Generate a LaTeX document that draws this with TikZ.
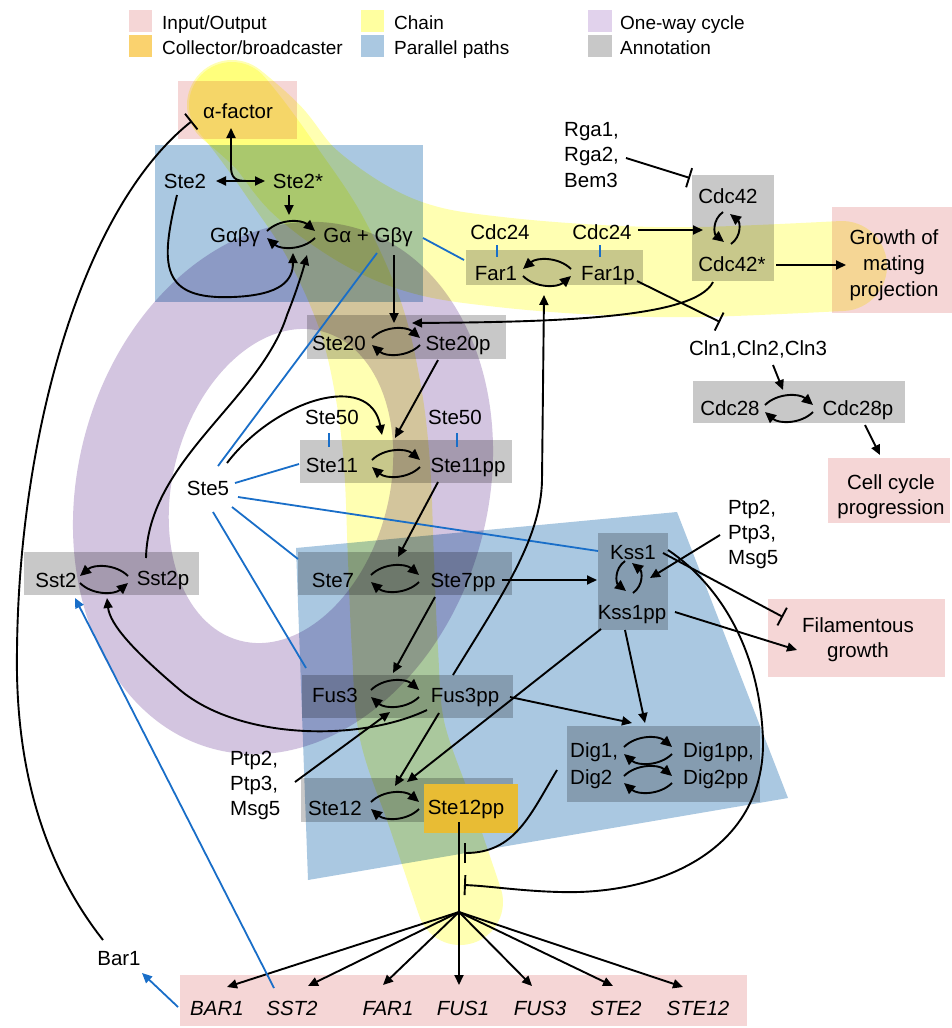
\documentclass[tikz,border=0pt]{standalone}
\usepackage{fontspec}
\setmainfont{Liberation Sans}
\usetikzlibrary{arrows.meta}
\definecolor{pinkc}{RGB}{245,214,214}
\definecolor{orangec}{RGB}{232,188,52}
\definecolor{orangeleg}{RGB}{250,210,110}
\definecolor{yelc}{RGB}{255,255,178}
\definecolor{yelleg}{RGB}{255,255,160}
\definecolor{bluec}{RGB}{170,200,225}
\definecolor{purc}{RGB}{211,197,224}
\definecolor{purleg}{RGB}{225,210,236}
\definecolor{grayc}{RGB}{200,200,200}
\definecolor{lineblue}{RGB}{25,110,200}
\newcommand\myfs{\fontsize{20.5}{24}\selectfont}
\newcommand\legfs{\fontsize{19}{22}\selectfont}
\begin{document}
\begin{tikzpicture}[x=1pt,y=-1pt,
  lbl/.style={inner sep=0pt, text height=14.7pt, text depth=0pt, font=\myfs},
  lblw/.style={lbl, anchor=west},
  leg/.style={inner sep=0pt, text height=13.6pt, text depth=0pt, font=\legfs, anchor=west},
  gene/.style={lbl, font=\myfs\itshape},
  arr/.style={draw=black, line width=1.9pt, -{Triangle[length=10pt,width=9pt]}},
  darr/.style={draw=black, line width=1.9pt, {Triangle[length=10pt,width=9pt]}-{Triangle[length=10pt,width=9pt]}},
  inh/.style={draw=black, line width=1.9pt, -{Bar[width=20pt]}},
  bl/.style={draw=lineblue, line width=1.8pt},
  blarr/.style={bl, -{Triangle[length=10pt,width=9pt]}},
  cyc/.style={draw=black, line width=1.9pt, -{Triangle[length=11pt,width=10pt]}},
  band/.style={draw=yelc, line cap=round, line join=round},
  cycr/.pic={\draw[cyc] (-24,-3) .. controls (-12,-15) and (10,-15) .. (24,-3);
             \draw[cyc] (24,4) .. controls (12,16) and (-10,16) .. (-24,4);},
  cycl/.pic={\draw[cyc] (24,-3) .. controls (12,-15) and (-10,-15) .. (-24,-3);
             \draw[cyc] (-24,4) .. controls (-12,16) and (10,16) .. (24,4);},
  cycv/.pic={\draw[cyc] (-4,-16) .. controls (-15,-8) and (-13,6) .. (-3,14);
             \draw[cyc] (4,16) .. controls (15,8) and (13,-6) .. (3,-14);},
]
\useasboundingbox[fill=white] (0,0) rectangle (952,1028);

% ---------- legend ----------
\fill[pinkc] (129,10) rectangle (152,32);
\fill[orangeleg] (129,35) rectangle (152,57);
\fill[yelleg] (361,10) rectangle (384,32);
\fill[bluec] (361,35) rectangle (384,57);
\fill[purleg] (588,10) rectangle (612,32);
\fill[grayc] (588,35) rectangle (612,57);
\node[leg] (l1) at (162,23) {Input/Output};
\node[leg] (l2) at (162,48) {Collector/broadcaster};
\node[leg] (l3) at (394,23) {Chain};
\node[leg] (l4) at (394,48) {Parallel paths};
\node[leg] (l5) at (620,23) {One-way cycle};
\node[leg] (l6) at (620,48) {Annotation};

% ---------- backgrounds ----------
\begin{scope}[blend mode=multiply]
  \fill[pinkc] (178,81) rectangle (297,139);
  \fill[pinkc] (832,207) rectangle (952,313);
  \fill[pinkc] (828,458) rectangle (950,523);
  \fill[pinkc] (768,599) rectangle (945,677);
  \fill[pinkc] (180,975) rectangle (747,1026);
  \fill[purc, even odd rule] (283,488) ellipse [x radius=205pt, y radius=270pt, rotate=-15]
                              (281,486) ellipse [x radius=108pt, y radius=160pt, rotate=-15];
  \fill[bluec] (155,145) rectangle (423,302);
  \fill[bluec] (296,548) -- (677,512) -- (788,798) -- (308,880) -- cycle;
  \draw[band, line width=90pt]
     plot[smooth, tension=0.6] coordinates {(232,105) (268,137) (305,182) (365,225) (425,250) (500,262) (600,270) (700,272) (842,266)};
  \draw[band, line width=86pt]
     plot[smooth, tension=0.6] coordinates {(232,105) (252,130) (282,172) (325,237) (360,315) (378,390) (387,465) (391,560) (395,650) (402,730) (430,813) (460,902)};
  \fill[grayc] (466,250) rectangle (643,285);
  \fill[grayc] (692,175) rectangle (774,281);
  \fill[grayc] (693,381) rectangle (905,423);
  \fill[grayc] (307,315) rectangle (506,359);
  \fill[grayc] (300,440) rectangle (512,483);
  \fill[grayc] (24,552) rectangle (199,595);
  \fill[grayc] (298,552) rectangle (512,595);
  \fill[grayc] (598,533) rectangle (668,630);
  \fill[grayc] (302,675) rectangle (513,718);
  \fill[grayc] (567,726) rectangle (760,802);
  \fill[grayc] (301,778) rectangle (513,822);
\end{scope}
\fill[orangec] (424,784) rectangle (518,833);

% ---------- text nodes ----------
\node[lbl] (alpha) at (238,111) {α-factor};
\node[lbl] (ste2) at (185,181) {Ste2};
\node[lbl] (ste2s) at (298,181) {Ste2*};
\node[lbl] (gabg) at (235,235) {Gαβγ};
\node[lbl] (gagbg) at (368,235) {Gα + Gβγ};
\node[lbl] (cdc24a) at (500,232) {Cdc24};
\node[lbl] (cdc24b) at (602,232) {Cdc24};
\node[lbl] (far1) at (496,273) {Far1};
\node[lbl] (far1p) at (608,273) {Far1p};
\node[lblw] (rga1) at (564,129) {Rga1,};
\node[lblw] (rga2) at (564,154) {Rga2,};
\node[lblw] (bem3) at (564,180) {Bem3};
\node[lbl] (cdc42) at (728,196) {Cdc42};
\node[lbl] (cdc42s) at (732,264) {Cdc42*};
\node[lbl] (gr1) at (894,237) {Growth of};
\node[lbl] (gr2) at (894,263) {mating};
\node[lbl] (gr3) at (894,289) {projection};
\node[lbl] (cln) at (758,348) {Cln1,Cln2,Cln3};
\node[lbl] (cdc28) at (730,408) {Cdc28};
\node[lbl] (cdc28p) at (858,408) {Cdc28p};
\node[lbl] (cc1) at (891,482) {Cell cycle};
\node[lbl] (cc2) at (891,507) {progression};
\node[lbl] (ste20) at (339,343) {Ste20};
\node[lbl] (ste20p) at (458,343) {Ste20p};
\node[lbl] (ste50a) at (332,417) {Ste50};
\node[lbl] (ste50b) at (455,417) {Ste50};
\node[lbl] (ste11) at (332,465) {Ste11};
\node[lbl] (ste11pp) at (468,465) {Ste11pp};
\node[lbl] (ste5) at (208,488) {Ste5};
\node[lbl] (sst2) at (56,580) {Sst2};
\node[lbl] (sst2p) at (163,578) {Sst2p};
\node[lbl] (ste7) at (333,580) {Ste7};
\node[lbl] (ste7pp) at (463,580) {Ste7pp};
\node[lbl] (kss1) at (633,552) {Kss1};
\node[lbl] (kss1pp) at (632,612) {Kss1pp};
\node[lblw] (ptpr1) at (728,507) {Ptp2,};
\node[lblw] (ptpr2) at (728,532) {Ptp3,};
\node[lblw] (ptpr3) at (728,557) {Msg5};
\node[lbl] (fil1) at (858,625) {Filamentous};
\node[lbl] (fil2) at (858,650) {growth};
\node[lbl] (fus3) at (335,695) {Fus3};
\node[lbl] (fus3pp) at (465,695) {Fus3pp};
\node[lblw] (dig1) at (570,750) {Dig1,};
\node[lblw] (dig2) at (570,777) {Dig2};
\node[lblw] (dig1pp) at (683,750) {Dig1pp,};
\node[lblw] (dig2pp) at (683,777) {Dig2pp};
\node[lblw] (ptpl1) at (230,758) {Ptp2,};
\node[lblw] (ptpl2) at (230,783) {Ptp3,};
\node[lblw] (ptpl3) at (230,808) {Msg5};
\node[lbl] (ste12) at (335,808) {Ste12};
\node[lbl] (ste12pp) at (466,807) {Ste12pp};
\node[lbl] (bar1) at (119,958) {Bar1};
\node[gene] (gBAR1) at (217,1008) {BAR1};
\node[gene] (gSST2) at (292,1008) {SST2};
\node[gene] (gFAR1) at (388,1008) {FAR1};
\node[gene] (gFUS1) at (463,1008) {FUS1};
\node[gene] (gFUS3) at (540,1008) {FUS3};
\node[gene] (gSTE2) at (616,1008) {STE2};
\node[gene] (gSTE12) at (698,1008) {STE12};

% ---------- cycles ----------
\pic at (291,234) {cycr};
\pic at (547,272) {cycl};
\pic at (727,228) {cycv};
\pic at (789,408) {cycr};
\pic at (396,341) {cycr};
\pic at (396,463) {cycr};
\pic at (104,579) {cycl};
\pic at (395,578) {cycr};
\pic at (629,577) {cycv};
\pic at (395,693) {cycr};
\pic at (648,750) {cycr};
\pic at (648,779) {cycr};
\pic at (395,805) {cycr};

% ---------- connector end points ----------
\coordinate (aTip) at (231,128);
\coordinate (aJn) at (247,181);
\coordinate (s2R) at (216,181);
\coordinate (s2sL) at (265,181);
\coordinate (s2sB) at (289,195);
\coordinate (gcT) at (289,215);
\coordinate (s2B) at (177,195);
\coordinate (gcB1) at (293,253);
\coordinate (sstpT) at (146,558);
\coordinate (gcB2) at (307,255);
\coordinate (gB) at (394,255);
\coordinate (s20cT) at (394,323);
\coordinate (gBl) at (377,253);
\coordinate (s5T) at (218,466);
\coordinate (gR) at (423,238);
\coordinate (far1W) at (464,260);
\coordinate (t1a) at (497,245); \coordinate (t1b) at (497,257);
\coordinate (t2a) at (600,245); \coordinate (t2b) at (600,257);
\coordinate (c24R) at (638,230);
\coordinate (c42cW) at (703,230);
\coordinate (rgaR) at (626,158);
\coordinate (c42TL) at (690,178);
\coordinate (c42sR) at (776,265);
\coordinate (grW) at (846,265);
\coordinate (c42sB) at (713,282);
\coordinate (s20pR) at (412,323);
\coordinate (f1pR) at (637,281);
\coordinate (clnT) at (720,322);
\coordinate (clnB) at (773,365);
\coordinate (c28cT) at (783,390);
\coordinate (c28pB) at (865,425);
\coordinate (ccT) at (880,455);
\coordinate (s20pB) at (438,360);
\coordinate (s11cT) at (395,438);
\coordinate (s5R) at (227,463);
\coordinate (s11cT2) at (382,435);
\coordinate (t3a) at (329,433); \coordinate (t3b) at (329,447);
\coordinate (t4a) at (457,433); \coordinate (t4b) at (457,447);
\coordinate (s5b) at (235,483);
\coordinate (s11W) at (299,464);
\coordinate (s5c) at (238,497);
\coordinate (kssW) at (598,551);
\coordinate (s5d) at (232,507);
\coordinate (s7W) at (298,559);
\coordinate (s5e) at (213,512);
\coordinate (f3W) at (306,668);
\coordinate (s11pB) at (438,482);
\coordinate (s7cT) at (398,557);
\coordinate (s7pR) at (502,580);
\coordinate (kcW) at (597,580);
\coordinate (s7pB) at (435,597);
\coordinate (f3cT) at (393,673);
\coordinate (f3pT) at (453,675);
\coordinate (f1cB) at (544,295);
\coordinate (f3pL) at (427,710);
\coordinate (sst2cB) at (107,598);
\coordinate (f3pR) at (510,697);
\coordinate (digT1) at (632,723);
\coordinate (f3pB) at (439,713);
\coordinate (s12cT1) at (395,786);
\coordinate (k1pL) at (601,629);
\coordinate (s12cT2) at (407,782);
\coordinate (k1pB) at (625,630);
\coordinate (digT2) at (645,723);
\coordinate (k1R) at (663,553);
\coordinate (filInh) at (783,617);
\coordinate (k1pR) at (675,612);
\coordinate (filW) at (797,650);
\coordinate (ptprL) at (720,535);
\coordinate (kcE) at (650,578);
\coordinate (ptplR) at (295,782);
\coordinate (f3cB) at (390,712);
\coordinate (k1R2) at (668,550);
\coordinate (barK) at (464,885);
\coordinate (digL) at (557,770);
\coordinate (barD) at (464,853);
\coordinate (s12pB) at (459,822);
\coordinate (fan) at (459,912);
\coordinate (eBAR1) at (227,987);
\coordinate (eSST2) at (308,986);
\coordinate (eFAR1) at (383,985);
\coordinate (eFUS1) at (459,985);
\coordinate (eFUS3) at (532,986);
\coordinate (eSTE2) at (613,986);
\coordinate (eSTE12) at (683,987);
\coordinate (gSST2T) at (274,988);
\coordinate (sst2B) at (75,598);
\coordinate (gBARL) at (178,1007);
\coordinate (bar1R) at (142,973);
\coordinate (bar1T) at (103,940);
\coordinate (alphaL) at (192,121);

% ---------- connectors ----------
\draw[arr] (aJn) .. controls (235,181) and (231,178) .. (231,166) -- (aTip);
\draw[darr] (s2R) -- (s2sL);
\draw[arr] (s2sB) -- (gcT);
\draw[arr] (s2B) .. controls (160,265) and (160,300) .. (233,297) .. controls (282,295) and (293,280) .. (gcB1);
\draw[arr] (sstpT) .. controls (148,460) and (260,400) .. (287,315) .. controls (297,290) and (303,270) .. (gcB2);
\draw[arr] (gB) -- (s20cT);
\draw[bl] (gBl) -- (s5T);
\draw[bl] (gR) -- (far1W);
\draw[bl] (t1a) -- (t1b);
\draw[bl] (t2a) -- (t2b);
\draw[arr] (c24R) -- (c42cW);
\draw[inh] (rgaR) -- (c42TL);
\draw[arr] (c42sR) -- (grW);
\draw[arr] (c42sB) .. controls (695,318) and (560,322) .. (s20pR);
\draw[inh] (f1pR) -- (clnT);
\draw[arr] (clnB) -- (c28cT);
\draw[arr] (c28pB) -- (ccT);
\draw[arr] (s20pB) -- (s11cT);
\draw[arr] (s5R) .. controls (275,400) and (370,370) .. (s11cT2);
\draw[bl] (t3a) -- (t3b);
\draw[bl] (t4a) -- (t4b);
\draw[bl] (s5b) -- (s11W);
\draw[bl] (s5c) -- (kssW);
\draw[bl] (s5d) -- (s7W);
\draw[bl] (s5e) -- (f3W);
\draw[arr] (s11pB) -- (s7cT);
\draw[arr] (s7pR) -- (kcW);
\draw[arr] (s7pB) -- (f3cT);
\draw[arr] (f3pT) .. controls (500,598) and (541,540) .. (542,480) -- (f1cB);
\draw[arr] (f3pL) .. controls (360,742) and (240,740) .. (180,690) .. controls (135,652) and (110,625) .. (sst2cB);
\draw[arr] (f3pR) -- (digT1);
\draw[arr] (f3pB) -- (s12cT1);
\draw[arr] (k1pL) -- (s12cT2);
\draw[arr] (k1pB) -- (digT2);
\draw[inh] (k1R) -- (filInh);
\draw[arr] (k1pR) -- (filW);
\draw[arr] (ptprL) -- (kcE);
\draw[arr] (ptplR) -- (f3cB);
\draw[inh] (k1R2) .. controls (720,585) and (760,650) .. (763,740) .. controls (765,850) and (660,895) .. (560,892) .. controls (520,891) and (490,886) .. (barK);
\draw[inh] (digL) .. controls (530,815) and (515,853) .. (barD);
\draw[line width=1.9pt] (s12pB) -- (fan);
\foreach \g in {eBAR1,eSST2,eFAR1,eFUS1,eFUS3,eSTE2,eSTE12}
  \draw[arr] (fan) -- (\g);
\draw[blarr] (gSST2T) -- (sst2B);
\draw[blarr] (gBARL) -- (bar1R);
\draw[inh] (bar1T) .. controls (40,860) and (15,760) .. (17,650) .. controls (19,440) and (80,210) .. (alphaL);
\end{tikzpicture}
\end{document}
